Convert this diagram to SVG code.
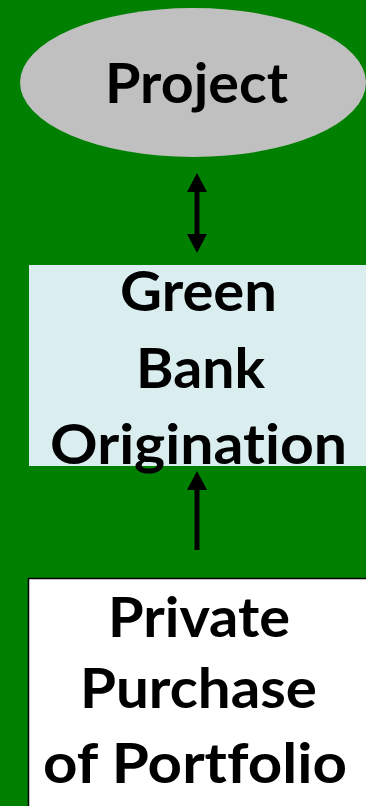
<svg xmlns="http://www.w3.org/2000/svg" width="366" height="806" viewBox="0 0 366 806">
<style>
.t{font-family:Lato,"Open Sans","Liberation Sans",sans-serif;font-weight:bold;font-size:55px;fill:#000;text-anchor:middle;font-variant-ligatures:none;font-feature-settings:"liga" 0,"clig" 0}
.c{stroke:#000;stroke-width:5;fill:none}
</style>
<defs>
<marker id="ah" markerUnits="userSpaceOnUse" markerWidth="20" markerHeight="20" viewBox="0 0 17 18" refX="0" refY="9" orient="auto-start-reverse">
<path d="M0,0 L17,9 L0,18 Z" fill="#000"/>
</marker>
</defs>
<rect x="0" y="0" width="366" height="806" fill="#008000"/>
<g id="project">
<ellipse cx="193" cy="82.5" rx="173" ry="74.5" fill="#C0C0C0"/>
<text class="t" x="196.5" y="103" textLength="183" lengthAdjust="spacingAndGlyphs">Project</text>
</g>
<g id="green-bank">
<rect x="29" y="265" width="340" height="201" fill="#DAEEF0"/>
<text class="t" x="198.5" y="311" textLength="157" lengthAdjust="spacingAndGlyphs">Green</text>
<text class="t" x="200.5" y="388" textLength="129" lengthAdjust="spacingAndGlyphs">Bank</text>
<text class="t" x="198.5" y="464" textLength="297" lengthAdjust="spacingAndGlyphs">Origination</text>
</g>
<g id="private">
<rect x="28.5" y="578.5" width="345" height="240" fill="#FFFFFF" stroke="#000" stroke-width="1.5"/>
<text class="t" x="199" y="637" textLength="182" lengthAdjust="spacingAndGlyphs">Private</text>
<text class="t" x="198.5" y="708" textLength="237" lengthAdjust="spacingAndGlyphs">Purchase</text>
<text class="t" x="195" y="783" textLength="304" lengthAdjust="spacingAndGlyphs">of Portfolio</text>
</g>
<g id="connectors">
<path class="c" d="M197,192 L197,234" marker-start="url(#ah)" marker-end="url(#ah)"/>
<path class="c" d="M197,550 L197,490" marker-end="url(#ah)"/>
</g>
</svg>
